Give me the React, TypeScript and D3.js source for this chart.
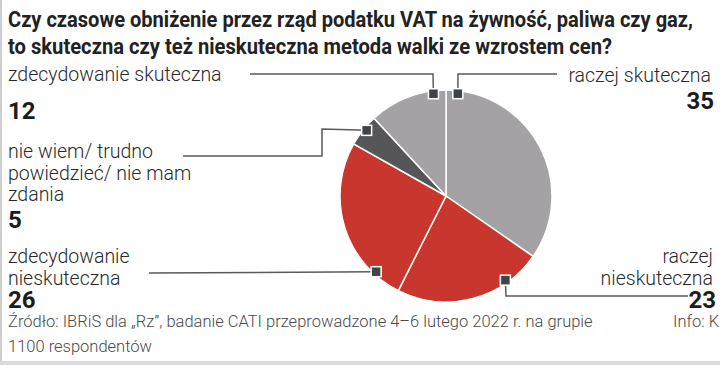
import React from "react";
import * as d3 from "d3";

// Pie of survey answers with leader-line labels (IBRiS for "Rz").
const categories = [
  "raczej skuteczna",
  "raczej nieskuteczna",
  "zdecydowanie nieskuteczna",
  "nie wiem/ trudno powiedzieć/ nie mam zdania",
  "zdecydowanie skuteczna",
];
const values = [35, 23, 26, 5, 12];
const colors = ["#a4a2a4", "#c8362e", "#c8362e", "#565659", "#a4a2a4"];

// how each label is broken into lines in the graphic
const labelLines = [
  ["raczej skuteczna"],
  ["raczej", "nieskuteczna"],
  ["zdecydowanie", "nieskuteczna"],
  ["nie wiem/ trudno", "powiedzieć/ nie mam", "zdania"],
  ["zdecydowanie skuteczna"],
];

const titleLines = [
  "Czy czasowe obniżenie przez rząd podatku VAT na żywność, paliwa czy gaz,",
  "to skuteczna czy też nieskuteczna metoda walki ze wzrostem cen?",
];
const sourceLines = [
  "Źródło: IBRiS dla „Rz”, badanie CATI przeprowadzone 4–6 lutego 2022 r. na grupie",
  "1100 respondentów",
];
const credit = "Info: K";

const W = 720;
const H = 365;
const cx = 446;
const cy = 196;
const R = 106;
const font = "Roboto, 'Liberation Sans', sans-serif";

// label placement per category: side, first baseline, value baseline, marker angle, leader path after the marker
const layout = [
  { side: "right", x: 711, y: 82, vy: 109, ang: 6.6, path: [[458, 74], [557, 74]] },
  { side: "right", x: 713, y: 263, vy: 308, ang: 144.8, path: [[506, 296], [688, 296]] },
  { side: "left", x: 8, y: 263, vy: 308, ang: 222.7, path: [[149, 273]] },
  { side: "left", x: 8, y: 158, vy: 228, ang: 309.6, path: [[322, 129], [322, 156], [183, 156]] },
  { side: "left", x: 8, y: 81, vy: 119, ang: -7, path: [[433, 74], [250, 74]] },
];

export default function App() {
  const pie = d3
    .pie<number>()
    .sort(null)
    .value((d) => d);
  const arcs = pie(values);
  const arc = d3.arc<d3.PieArcDatum<number>>().innerRadius(0).outerRadius(R);
  const line = d3.line();

  return (
    <div style={{ position: "absolute", left: 0, top: 0, width: W, height: H, background: "#fff" }}>
      <svg width={W} height={H} style={{ display: "block", fontFamily: font }}>
        <rect x={0} y={0} width={W} height={H} fill="#fff" />
        <line x1={1} x2={1} y1={0} y2={H} stroke="#cfcfcf" strokeWidth={2} />
        <rect x={0} y={361} width={W} height={4} fill="#dcdcdc" />

        {titleLines.map((t, i) => (
          <text
            key={i}
            x={8}
            y={27 + i * 27}
            fontSize={22}
            fontWeight={700}
            fill="#222"
            textLength={i === 0 ? 685 : 604}
            lengthAdjust="spacingAndGlyphs"
          >
            {t}
          </text>
        ))}

        <g transform={`translate(${cx},${cy})`}>
          {arcs.map((a, i) => (
            <path key={i} d={arc(a) || ""} fill={colors[i]} stroke="#fff" strokeWidth={1.5}>
              <title>{categories[i]}</title>
            </path>
          ))}
        </g>

        {layout.map((l, i) => {
          const rad = (l.ang * Math.PI) / 180;
          const mx = cx + (R - 3) * Math.sin(rad);
          const my = cy - (R - 3) * Math.cos(rad);
          const pts = [[mx, my], ...l.path] as [number, number][];
          const anchor = l.side === "right" ? "end" : "start";
          return (
            <g key={i}>
              <path d={line(pts) || ""} fill="none" stroke="#5a5a5a" strokeWidth={1.5} />
              <rect x={mx - 5} y={my - 5} width={10} height={10} fill="#3f4448" stroke="#fff" strokeWidth={1.5} />
              {labelLines[i].map((t, j) => (
                <text key={j} x={l.x} y={l.y + j * 21.5} fontSize={19.5} fontWeight={300} fill="#2a2a2a" textAnchor={anchor}>
                  {t}
                </text>
              ))}
              <text x={l.x + (l.side === "right" ? 3 : 0)} y={l.vy} fontSize={24} fontWeight={700} fill="#1c1c1c" textAnchor={anchor}>
                {values[i]}
              </text>
            </g>
          );
        })}

        {sourceLines.map((t, i) => (
          <text key={i} x={8} y={327 + i * 25} fontSize={16.5} fontWeight={300} fill="#4a4a4a">
            {t}
          </text>
        ))}
        <text x={673} y={327} fontSize={16.5} fontWeight={300} fill="#4a4a4a">
          {credit}
        </text>
      </svg>
    </div>
  );
}
